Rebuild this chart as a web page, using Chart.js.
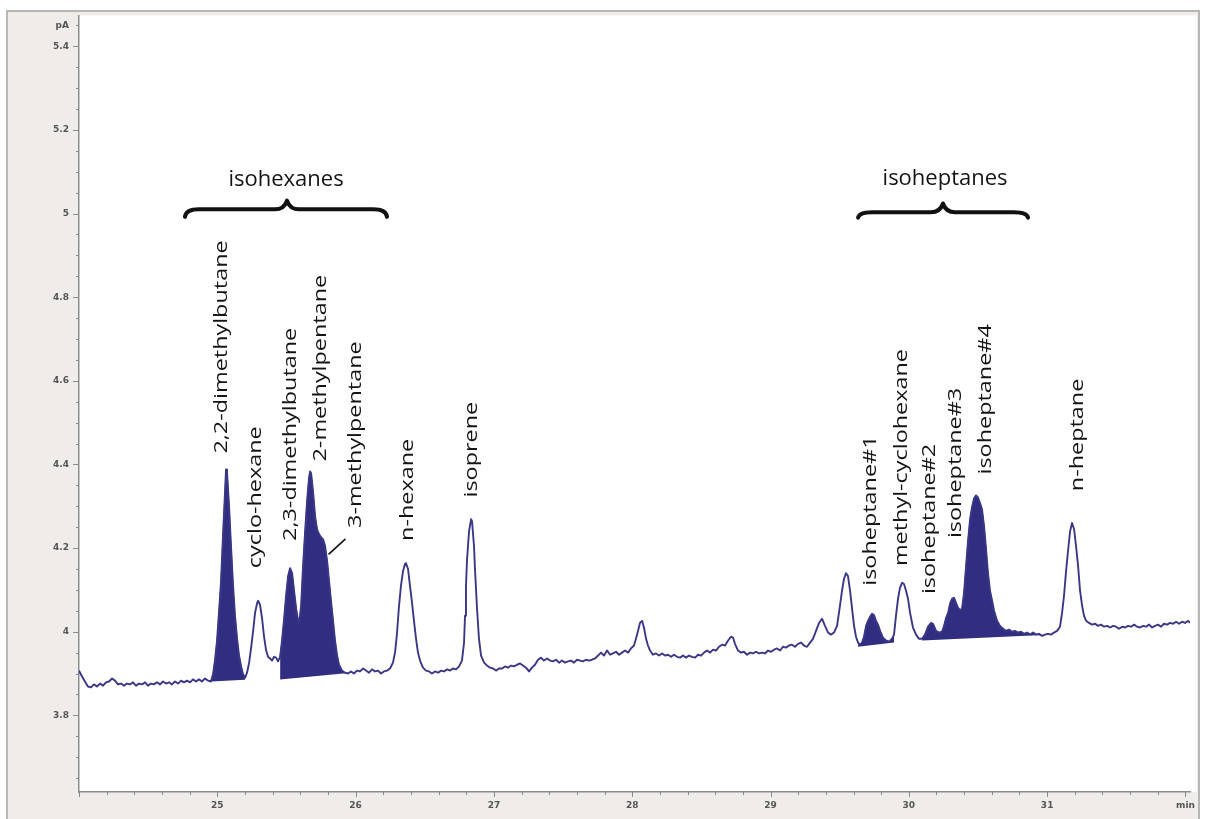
<!DOCTYPE html>
<html>
<head>
<meta charset="utf-8">
<title>Chromatogram – C6/C7 hydrocarbons</title>
<script src="https://cdn.jsdelivr.net/npm/chart.js@4.4.1/dist/chart.umd.min.js"></script>
<style>
  html, body { margin: 0; padding: 0; background: #ffffff; }
  #wrap { width: 1206px; height: 819px; position: relative; }
  canvas { display: block; }
</style>
</head>
<body>
<div id="wrap"><canvas id="chromatogram" width="1206" height="819"></canvas></div>
<script>
// ---- FID trace, [retention time (min), signal (pA)] ----
const leadIn = [
  [24.000,3.907],[24.022,3.893],[24.043,3.881],[24.065,3.869],[24.087,3.867],[24.108,3.874],[24.130,3.869],[24.152,3.876],
  [24.174,3.871],[24.195,3.879],[24.217,3.881],[24.239,3.888],[24.260,3.883],[24.282,3.874],[24.304,3.876],[24.325,3.871],
  [24.347,3.876],[24.369,3.874],[24.390,3.879],[24.412,3.871],[24.434,3.876],[24.456,3.874],[24.477,3.879],[24.499,3.871],
  [24.521,3.876],[24.542,3.874],[24.564,3.879],[24.586,3.874],[24.607,3.881],[24.629,3.876],[24.651,3.879],[24.672,3.874],
  [24.694,3.881],[24.716,3.876],[24.738,3.883],[24.759,3.879],[24.781,3.883],[24.803,3.879],[24.824,3.886],[24.846,3.881],
  [24.868,3.886],[24.889,3.881],[24.911,3.888],[24.933,3.883],[24.954,3.881]
];
const hexaneRegion = [
  [24.969,3.898],[24.983,3.931],[24.998,3.979],[25.012,4.045],[25.027,4.121],[25.041,4.229],[25.056,4.336],[25.063,4.388],
  [25.070,4.383],[25.085,4.300],[25.099,4.205],[25.114,4.110],[25.128,4.038],[25.143,3.983],[25.157,3.943],[25.172,3.917],
  [25.186,3.898],[25.201,3.890],[25.215,3.902],[25.230,3.926],[25.244,3.960],[25.259,4.002],[25.273,4.045],[25.288,4.069],
  [25.295,4.074],[25.309,4.064],[25.324,4.031],[25.338,3.988],[25.353,3.955],[25.367,3.940],[25.381,3.936],[25.396,3.931],
  [25.410,3.940],[25.425,3.938],[25.439,3.929],[25.454,3.940],[25.468,3.979],[25.483,4.031],[25.497,4.086],[25.512,4.133],
  [25.526,4.152],[25.541,4.140],[25.555,4.098],[25.570,4.055],[25.584,4.026],[25.591,4.019],[25.606,4.062],[25.620,4.157],
  [25.635,4.240],[25.649,4.312],[25.663,4.367],[25.671,4.383],[25.678,4.379],[25.692,4.336],[25.707,4.276],[25.721,4.245],
  [25.736,4.233],[25.750,4.226],[25.765,4.221],[25.779,4.205],[25.794,4.169],[25.808,4.121],[25.822,4.074],[25.837,4.026],
  [25.851,3.979],[25.866,3.943],[25.880,3.921],[25.902,3.907],[25.923,3.902],[25.945,3.900],[25.967,3.905],[25.988,3.900],
  [26.010,3.907],[26.032,3.905],[26.054,3.912],[26.075,3.907],[26.097,3.902],[26.119,3.910],[26.140,3.905],[26.162,3.907],
  [26.184,3.900],[26.205,3.905],[26.227,3.907],[26.249,3.912],[26.270,3.926],[26.285,3.950]
];
const midRegion = [
  [26.299,3.995],[26.314,4.062],[26.328,4.110],[26.343,4.145],[26.357,4.162],[26.364,4.164],[26.379,4.150],[26.393,4.110],
  [26.408,4.069],[26.422,4.026],[26.437,3.983],[26.451,3.950],[26.466,3.931],[26.487,3.914],[26.509,3.907],[26.531,3.905],
  [26.552,3.900],[26.574,3.905],[26.596,3.902],[26.618,3.907],[26.639,3.905],[26.661,3.910],[26.683,3.907],[26.704,3.912],
  [26.726,3.910],[26.748,3.917],[26.769,3.931],[26.784,3.974],[26.791,4.038],[26.798,4.110],[26.806,4.174],[26.820,4.240],
  [26.835,4.269],[26.842,4.264],[26.856,4.205],[26.863,4.150],[26.878,4.055],[26.892,3.983],[26.907,3.943],[26.929,3.926],
  [26.950,3.919],[26.972,3.914],[26.994,3.912],[27.015,3.907],[27.037,3.912],[27.059,3.912],[27.080,3.917],[27.102,3.914],
  [27.124,3.919],[27.145,3.917],[27.167,3.921],[27.189,3.924],[27.210,3.919],[27.232,3.914],[27.254,3.905],[27.275,3.914],
  [27.297,3.921],[27.319,3.933],[27.340,3.938],[27.362,3.931],[27.384,3.936],[27.406,3.931],[27.427,3.929],[27.449,3.933],
  [27.471,3.926],[27.492,3.931],[27.514,3.926],[27.536,3.929],[27.557,3.931],[27.579,3.926],[27.601,3.933],[27.623,3.931],
  [27.644,3.929],[27.666,3.933],[27.688,3.931],[27.709,3.933],[27.731,3.936],[27.753,3.943],[27.774,3.950],[27.796,3.943],
  [27.818,3.955],[27.840,3.945],[27.861,3.948],[27.883,3.952],[27.905,3.945],[27.926,3.950],[27.948,3.955],[27.970,3.950],
  [27.991,3.960],[28.013,3.967],[28.027,3.983],[28.042,4.002],[28.056,4.021],[28.071,4.026],[28.085,4.010],[28.100,3.983],
  [28.114,3.967],[28.129,3.955],[28.150,3.945],[28.172,3.948],[28.194,3.943],[28.216,3.948],[28.237,3.943],[28.259,3.945],
  [28.281,3.940],[28.302,3.945],[28.324,3.940],[28.346,3.938],[28.367,3.943],[28.389,3.938],[28.411,3.943],[28.432,3.940],
  [28.454,3.938],[28.476,3.945],[28.498,3.943],[28.519,3.950],[28.541,3.955],[28.563,3.950],[28.584,3.957],[28.606,3.955],
  [28.628,3.964],[28.649,3.969],[28.671,3.967],[28.693,3.979],[28.714,3.988],[28.729,3.986],[28.743,3.971],[28.765,3.955],
  [28.787,3.950],[28.808,3.952],[28.830,3.945],[28.852,3.950],[28.873,3.948],[28.895,3.952],[28.917,3.948],[28.939,3.950],
  [28.960,3.948],[28.982,3.955],[29.004,3.952],[29.025,3.957],[29.047,3.960],[29.069,3.955],[29.090,3.964],[29.112,3.962],
  [29.134,3.967],[29.155,3.969],[29.177,3.964],[29.199,3.971],[29.221,3.974],[29.242,3.967],[29.264,3.964],[29.286,3.974],
  [29.307,3.983],[29.329,4.002],[29.351,4.021],[29.372,4.031],[29.394,4.014],[29.416,3.998],[29.437,3.993],[29.459,3.998]
];
const heptaneRegion = [
  [29.481,4.014],[29.502,4.062],[29.517,4.098],[29.531,4.126],[29.546,4.140],[29.560,4.133],[29.575,4.098],[29.589,4.057],
  [29.604,4.014],[29.618,3.988],[29.633,3.974],[29.647,3.969],[29.662,3.974],[29.676,3.988],[29.691,4.014],[29.705,4.026],
  [29.720,4.036],[29.734,4.043],[29.748,4.040],[29.763,4.026],[29.777,4.017],[29.792,4.002],[29.813,3.986],[29.835,3.979],
  [29.857,3.976],[29.878,3.983],[29.893,3.993],[29.907,4.038],[29.922,4.079],[29.936,4.105],[29.951,4.117],[29.965,4.114],
  [29.980,4.098],[29.994,4.079],[30.009,4.045],[30.030,4.010],[30.052,3.993],[30.074,3.983],[30.096,3.983],[30.117,3.993],
  [30.139,4.012],[30.161,4.021],[30.175,4.019],[30.197,4.002],[30.218,3.998],[30.240,4.000],[30.255,4.014],[30.269,4.033],
  [30.284,4.045],[30.298,4.067],[30.313,4.079],[30.327,4.081],[30.341,4.069],[30.356,4.057],[30.370,4.052],[30.385,4.055],
  [30.399,4.093],[30.414,4.157],[30.428,4.217],[30.443,4.269],[30.457,4.298],[30.472,4.319],[30.486,4.326],[30.500,4.321],
  [30.515,4.307],[30.529,4.293],[30.544,4.252],[30.558,4.198],[30.573,4.138],[30.587,4.098],[30.602,4.074],[30.616,4.050],
  [30.638,4.026],[30.659,4.014],[30.681,4.007],[30.703,4.002],[30.725,4.005],[30.746,4.000],[30.768,4.002],[30.790,3.998],
  [30.811,4.000],[30.833,3.995],[30.855,3.998],[30.876,3.993],[30.898,3.998],[30.920,3.993],[30.941,3.995],[30.963,3.990],
  [30.985,3.993],[31.006,3.995],[31.028,3.993],[31.050,3.998],[31.072,4.002],[31.093,4.012],[31.108,4.045],[31.122,4.086],
  [31.137,4.145],[31.151,4.193],[31.166,4.240],[31.180,4.260],[31.195,4.245],[31.209,4.205],[31.224,4.157],[31.238,4.098],
  [31.253,4.062],[31.267,4.038],[31.282,4.026]
];
const tailRegion = [
  [31.303,4.021],[31.325,4.017],[31.347,4.019],[31.368,4.014],[31.390,4.017],[31.412,4.012],[31.434,4.014],[31.455,4.010],
  [31.477,4.014],[31.499,4.012],[31.520,4.007],[31.542,4.012],[31.564,4.010],[31.585,4.014],[31.607,4.012],[31.629,4.017],
  [31.650,4.012],[31.672,4.010],[31.694,4.014],[31.715,4.012],[31.737,4.017],[31.759,4.010],[31.780,4.014],[31.802,4.017],
  [31.824,4.012],[31.845,4.019],[31.867,4.017],[31.889,4.021],[31.911,4.019],[31.932,4.024],[31.954,4.019],[31.976,4.024],
  [31.997,4.021],[32.019,4.026],[32.033,4.021]
];

// Integrated peak windows: drop-line baseline [start min, start pA, end min, end pA]
const integratedWindows = [
  [24.954, 3.881, 25.201, 3.885],
  [25.454, 3.886, 25.967, 3.902],
  [29.633, 3.964, 29.893, 3.974],
  [30.096, 3.979, 31.006, 3.993]
];

// Peak identifications and the group names
const peakNames = [
  '2,2-dimethylbutane', 'cyclo-hexane', '2,3-dimethylbutane', '2-methylpentane', '3-methylpentane',
  'n-hexane', 'isoprene', 'isoheptane#1', 'methyl-cyclohexane', 'isoheptane#2', 'isoheptane#3',
  'isoheptane#4', 'n-heptane'
];
const groupNames = ['isohexanes', 'isoheptanes'];

// Axis tick labelling
const xMajorLabels = ['25', '26', '27', '28', '29', '30', '31'];
const yMajorLabels = ['3.8', '4', '4.2', '4.4', '4.6', '4.8', '5', '5.2', '5.4'];
const xUnitLabel = 'min';
const yUnitLabel = 'pA';

// ---- layout of annotations (in axis units) ----
const peakLabelAnchors = [
  [25.070, 4.426], [25.316, 4.152], [25.569, 4.217], [25.786, 4.407], [26.039, 4.248],
  [26.415, 4.217], [26.878, 4.321], [29.763, 4.110], [29.987, 4.157], [30.189, 4.090],
  [30.377, 4.224], [30.594, 4.376], [31.260, 4.336]
];
const groupLayout = [
  // label position, brace left / centre / right, brace body, tip and end heights
  { lx: 25.497, ly: 5.067, x0: 24.766, xc: 25.504, x1: 26.227, yBody: 5.010, yTip: 5.031, yEnd: 4.992 },
  { lx: 30.262, ly: 5.069, x0: 29.633, xc: 30.247, x1: 30.862, yBody: 5.003, yTip: 5.024, yEnd: 4.990 }
];
const leaderLine = [[25.808, 4.186], [25.923, 4.221]];  // to the 3-methylpentane shoulder

const TRACE_COLOR = '#3a3786';
const AREA_COLOR = '#312d80';
const PANEL_COLOR = '#efecea';

const trace = [...leadIn, ...hexaneRegion, ...midRegion, ...heptaneRegion, ...tailRegion]
  .map(([t, v]) => ({ x: t, y: v }));

const datasets = [{
  data: trace, borderColor: TRACE_COLOR, borderWidth: 1.9, pointRadius: 0, fill: false, tension: 0
}];
integratedWindows.forEach(([t0, v0, t1, v1]) => {
  datasets.push({
    data: trace.filter(p => p.x >= t0 - 1e-9 && p.x <= t1 + 1e-9),
    borderColor: AREA_COLOR, borderWidth: 1, backgroundColor: AREA_COLOR,
    pointRadius: 0, fill: '+1', tension: 0
  });
  datasets.push({
    data: [{ x: t0, y: v0 }, { x: t1, y: v1 }],
    borderColor: 'rgba(0,0,0,0)', borderWidth: 1, pointRadius: 0, fill: false
  });
});

const near = (a, b) => Math.abs(a - b) < 1e-6;
const onStep = (v, step) => near(v / step, Math.round(v / step));

// tick positions: every 0.2 min on the time axis, every 0.05 pA on the signal axis
const xTickValues = [];
for (let k = 120; k <= 160; k++) xTickValues.push(k / 5);
const yTickValues = [];
for (let k = 73; k <= 109; k++) yTickValues.push(k / 20);

// Window frame and panels behind the plot
const framePlugin = {
  id: 'frame',
  beforeDraw(chart) {
    const { ctx, chartArea: a, width, height } = chart;
    ctx.save();
    ctx.fillStyle = '#ffffff';
    ctx.fillRect(0, 0, width, height);
    ctx.fillStyle = PANEL_COLOR;
    ctx.fillRect(7, 11, 1192, height - 11);
    ctx.fillStyle = '#ffffff';
    ctx.fillRect(a.left, a.top, 1197 - a.left, a.bottom - a.top);
    ctx.strokeStyle = '#b7b7b7';
    ctx.lineWidth = 2;
    ctx.beginPath();
    ctx.moveTo(7, height); ctx.lineTo(7, 11); ctx.lineTo(1199, 11); ctx.lineTo(1199, height);
    ctx.stroke();
    ctx.restore();
  }
};

// Major / minor tick marks on both axes
const tickMarkPlugin = {
  id: 'tickMarks',
  afterDraw(chart) {
    const { ctx, scales: { x, y }, chartArea: a } = chart;
    ctx.save();
    ctx.strokeStyle = '#8a8a8a';
    ctx.lineWidth = 1;
    y.ticks.forEach(tk => {
      const py = Math.round(y.getPixelForValue(tk.value)) + 0.5;
      const len = onStep(tk.value, 0.2) ? 6 : 3;
      ctx.beginPath(); ctx.moveTo(a.left - len, py); ctx.lineTo(a.left, py); ctx.stroke();
    });
    x.ticks.forEach(tk => {
      const px = Math.round(x.getPixelForValue(tk.value)) + 0.5;
      const len = onStep(tk.value, 1) ? 5 : 3;
      ctx.beginPath(); ctx.moveTo(px, a.bottom); ctx.lineTo(px, a.bottom + len); ctx.stroke();
    });
    ctx.restore();
  }
};

// Peak names, group braces and the shoulder leader line
const annotationPlugin = {
  id: 'peakAnnotations',
  afterDatasetsDraw(chart) {
    const { ctx, scales: { x, y } } = chart;
    ctx.save();
    ctx.fillStyle = '#141414';
    ctx.font = '18px "Open Sans"';
    ctx.textAlign = 'left';
    ctx.textBaseline = 'alphabetic';
    peakNames.forEach((name, i) => {
      const [t, v] = peakLabelAnchors[i];
      ctx.save();
      ctx.translate(x.getPixelForValue(t), y.getPixelForValue(v));
      ctx.rotate(-Math.PI / 2);
      ctx.scale(1.3, 1);
      ctx.fillText(name, 0, 0);
      ctx.restore();
    });

    ctx.font = '22px "Open Sans"';
    ctx.textAlign = 'center';
    groupNames.forEach((name, i) => {
      const g = groupLayout[i];
      ctx.fillText(name, x.getPixelForValue(g.lx), y.getPixelForValue(g.ly));
      const x0 = x.getPixelForValue(g.x0), x1 = x.getPixelForValue(g.x1), xc = x.getPixelForValue(g.xc);
      const yb = y.getPixelForValue(g.yBody), yt = y.getPixelForValue(g.yTip), ye = y.getPixelForValue(g.yEnd);
      ctx.strokeStyle = '#111111';
      ctx.lineWidth = 4;
      ctx.lineCap = 'round';
      ctx.lineJoin = 'round';
      ctx.beginPath();
      ctx.moveTo(x0, ye);
      ctx.quadraticCurveTo(x0 + 1, yb, x0 + 14, yb);
      ctx.lineTo(xc - 12, yb);
      ctx.quadraticCurveTo(xc - 3, yb, xc, yt);
      ctx.quadraticCurveTo(xc + 3, yb, xc + 12, yb);
      ctx.lineTo(x1 - 14, yb);
      ctx.quadraticCurveTo(x1 - 1, yb, x1, ye);
      ctx.stroke();
    });

    ctx.strokeStyle = '#111111';
    ctx.lineWidth = 1.6;
    ctx.beginPath();
    ctx.moveTo(x.getPixelForValue(leaderLine[0][0]), y.getPixelForValue(leaderLine[0][1]));
    ctx.lineTo(x.getPixelForValue(leaderLine[1][0]), y.getPixelForValue(leaderLine[1][1]));
    ctx.stroke();
    ctx.restore();
  }
};

const tickFont = { family: '"DejaVu Sans"', size: 9, weight: 'bold' };

new Chart(document.getElementById('chromatogram'), {
  type: 'line',
  data: { datasets },
  options: {
    responsive: false,
    animation: false,
    devicePixelRatio: 1,
    layout: { padding: { left: 0, right: 16, top: 12, bottom: 0 } },
    plugins: { legend: { display: false }, tooltip: { enabled: false } },
    elements: { line: { borderJoinStyle: 'round' } },
    scales: {
      x: {
        type: 'linear',
        min: 24,
        max: 32.033,
        grid: { display: false, drawTicks: false },
        border: { display: true, color: '#8d8d8d', width: 1.5 },
        afterFit: s => { s.height = 27; },
        afterBuildTicks: s => { s.ticks = xTickValues.map(v => ({ value: v })); },
        ticks: {
          autoSkip: false,
          maxRotation: 0,
          padding: 8,
          color: '#555555',
          font: tickFont,
          callback: v => {
            if (!onStep(v, 1)) return '';
            const r = Math.round(v);
            if (r === 32) return xUnitLabel;
            const idx = r - 25;
            return idx >= 0 && idx < xMajorLabels.length ? xMajorLabels[idx] : '';
          }
        }
      },
      y: {
        type: 'linear',
        min: 3.6167,
        max: 5.4738,
        grid: { display: false, drawTicks: false },
        border: { display: true, color: '#8d8d8d', width: 1.5 },
        afterFit: s => { s.width = 79; },
        afterBuildTicks: s => { s.ticks = yTickValues.map(v => ({ value: v })); },
        ticks: {
          autoSkip: false,
          padding: 10,
          color: '#555555',
          font: tickFont,
          callback: v => {
            if (near(v, 5.45)) return yUnitLabel;
            if (!onStep(v, 0.2)) return '';
            const idx = Math.round((v - 3.8) / 0.2);
            return idx >= 0 && idx < yMajorLabels.length ? yMajorLabels[idx] : '';
          }
        }
      }
    }
  },
  plugins: [framePlugin, tickMarkPlugin, annotationPlugin]
});
</script>
</body>
</html>
